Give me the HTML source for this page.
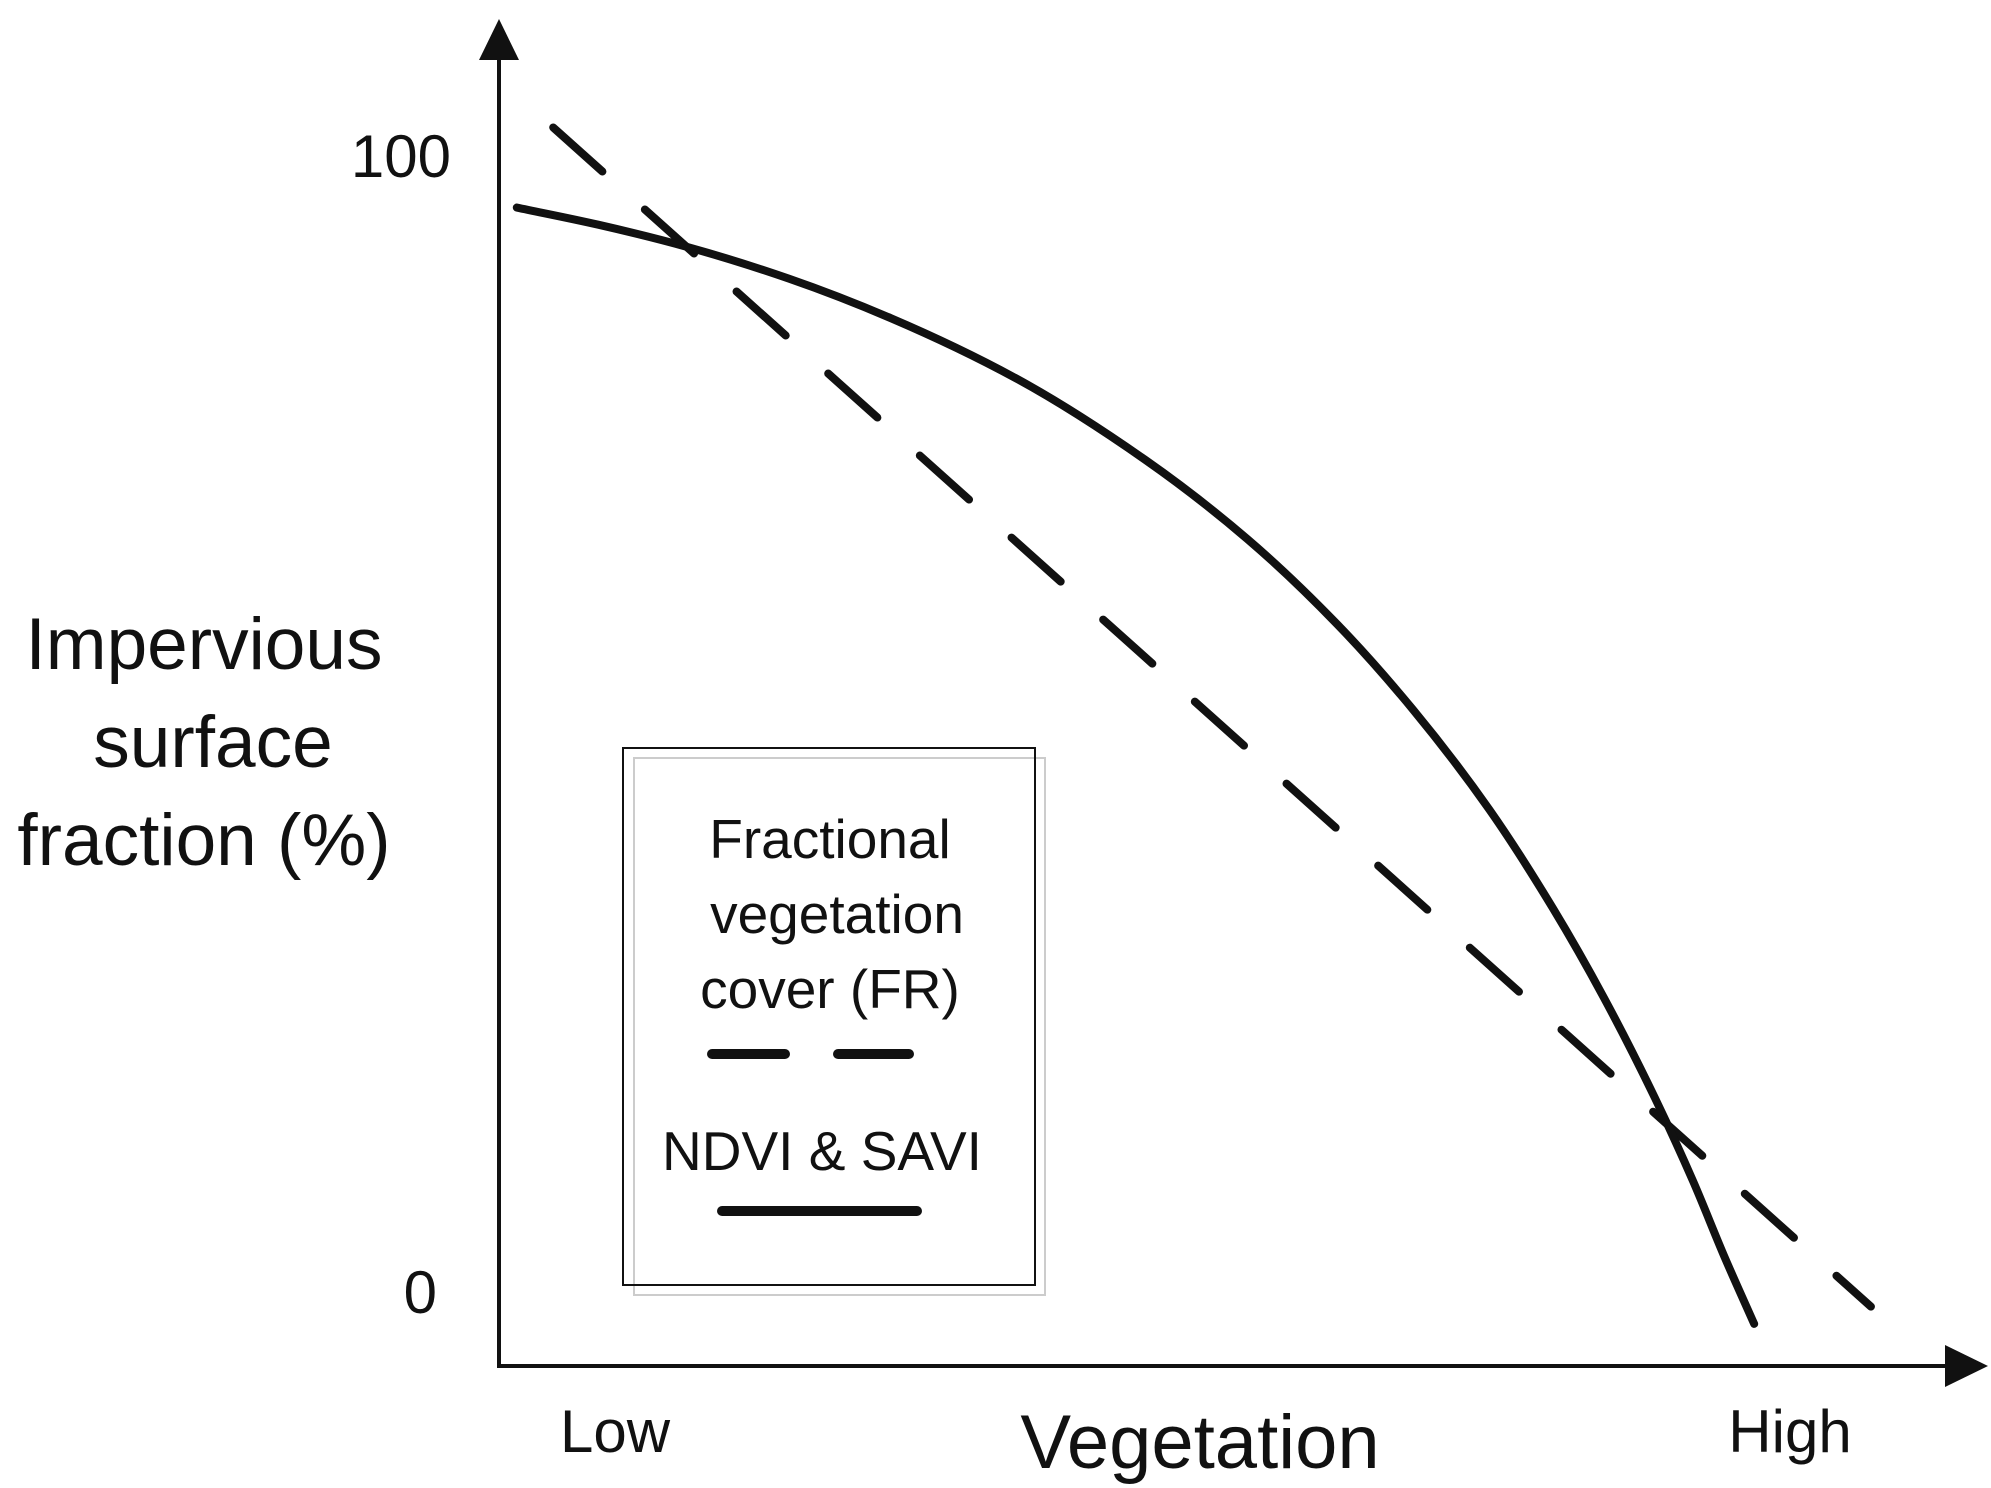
<!DOCTYPE html>
<html><head><meta charset="utf-8"><style>
html,body{margin:0;padding:0;background:#fff;}
svg{display:block;font-family:"Liberation Sans",sans-serif;}
</style></head><body>
<svg id="chart" width="1991" height="1488" viewBox="0 0 1991 1488">
<g id="axes">
  <line x1="499" y1="50" x2="499" y2="1368" stroke="#111" stroke-width="4"/>
  <polygon points="499,19 479,60 519,60" fill="#111"/>
  <line x1="497" y1="1366" x2="1950" y2="1366" stroke="#111" stroke-width="4"/>
  <polygon points="1988,1366 1945,1345 1945,1387" fill="#111"/>
</g>
<g id="labels" font-size="58" fill="#111">
  <text x="451" y="177" text-anchor="end" font-size="60">100</text>
  <text x="437" y="1313" text-anchor="end" font-size="60">0</text>
  <g font-size="73" text-anchor="middle">
    <text x="204" y="669">Impervious</text>
    <text x="213" y="767">surface</text>
    <text x="204" y="865">fraction (%)</text>
  </g>
  <text x="615" y="1452" text-anchor="middle" font-size="60">Low</text>
  <text x="1790" y="1452" text-anchor="middle" font-size="60">High</text>
  <text x="1200" y="1468" text-anchor="middle" font-size="76">Vegetation</text>
</g>
<g id="series"></g>
<g id="legend">
  <rect x="634" y="758" width="411" height="537" fill="none" stroke="#ccc" stroke-width="2"/>
  <rect x="623" y="748" width="412" height="537" fill="none" stroke="#111" stroke-width="2"/>
  <g font-size="55" fill="#111" text-anchor="middle">
    <text x="830" y="858">Fractional</text>
    <text x="837" y="933">vegetation</text>
    <text x="830" y="1008">cover (FR)</text>
    <text x="822" y="1170">NDVI &amp; SAVI</text>
  </g>
  <line x1="712" y1="1054" x2="785" y2="1054" stroke="#111" stroke-width="10" stroke-linecap="round"/>
  <line x1="838" y1="1054" x2="909" y2="1054" stroke="#111" stroke-width="10" stroke-linecap="round"/>
  <line x1="722" y1="1211" x2="917" y2="1211" stroke="#111" stroke-width="10" stroke-linecap="round"/>
</g>
</svg>
<script>
const solidX = [1.28, 7.14, 13.55, 20.88, 28.21, 37.37, 46.53, 53.85, 60.27, 65.76, 71.25, 75.83, 79.50, 83.16, 85.91, 88.19, 90.30];
const solidY = [95.55, 94.04, 92.08, 89.28, 85.80, 80.40, 73.31, 66.36, 58.91, 51.35, 42.55, 33.85, 25.97, 17.17, 9.83, 3.11, -2.72];
const dashedX = [3.9, 98.7];
const dashedY = [102.6, -1.2];

function xScale(v){ return 499 + v * 13.9; }
function yScale(v){ return 1293 - v * 11.36; }

// monotone cubic (Fritsch-Carlson) in pixel space
function smoothPath(xs, ys){
  const p = xs.map((x,i)=>[xScale(x), yScale(ys[i])]);
  const n = p.length;
  if (n < 3) return 'M' + p.map(q=>q.join(',')).join(' L');
  const h = [], d = [];
  for (let i = 0; i < n-1; i++){ h[i] = p[i+1][0]-p[i][0]; d[i] = (p[i+1][1]-p[i][1])/h[i]; }
  const m = [];
  m[0] = d[0]; m[n-1] = d[n-2];
  for (let i = 1; i < n-1; i++){
    if (d[i-1]*d[i] <= 0) m[i] = 0;
    else {
      const w1 = 2*h[i]+h[i-1], w2 = h[i]+2*h[i-1];
      m[i] = (w1+w2)/(w1/d[i-1] + w2/d[i]);
    }
  }
  let s = 'M' + p[0][0] + ',' + p[0][1];
  for (let i = 0; i < n-1; i++){
    const c1 = [p[i][0] + h[i]/3, p[i][1] + m[i]*h[i]/3];
    const c2 = [p[i+1][0] - h[i]/3, p[i+1][1] - m[i+1]*h[i]/3];
    s += ' C' + c1.join(',') + ' ' + c2.join(',') + ' ' + p[i+1].join(',');
  }
  return s;
}
const NS = 'http://www.w3.org/2000/svg';
const g = document.getElementById('series');

const dashed = document.createElementNS(NS, 'path');
dashed.setAttribute('d', smoothPath(dashedX, dashedY));
dashed.setAttribute('fill', 'none');
dashed.setAttribute('stroke', '#111');
dashed.setAttribute('stroke-width', '8');
dashed.setAttribute('stroke-linecap', 'round');
dashed.setAttribute('stroke-dasharray', '66 57');


g.appendChild(dashed);

const solid = document.createElementNS(NS, 'path');
solid.setAttribute('d', smoothPath(solidX, solidY));
solid.setAttribute('fill', 'none');
solid.setAttribute('stroke', '#111');
solid.setAttribute('stroke-width', '8');
solid.setAttribute('stroke-linecap', 'round');


g.appendChild(solid);
</script>
</body></html>
